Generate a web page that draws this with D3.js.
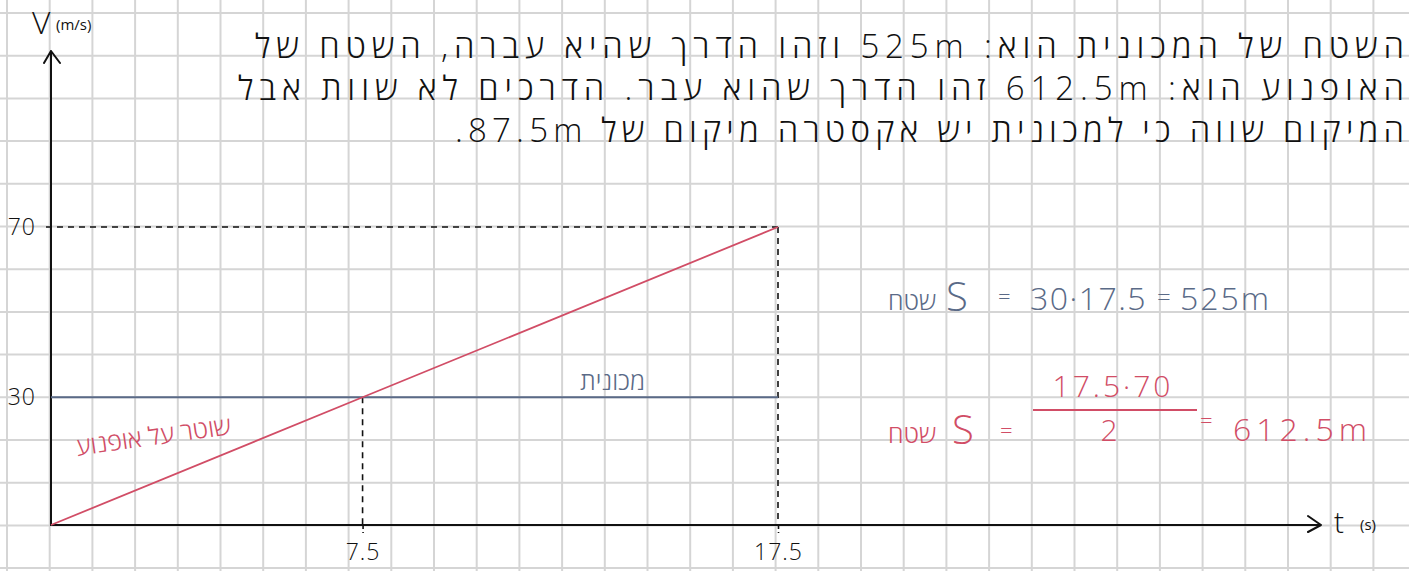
<!DOCTYPE html>
<html>
<head>
<meta charset="utf-8">
<script src="https://cdn.jsdelivr.net/npm/d3@7"></script>
<style>
	body { margin: 0; background: #fff; }
	svg { display: block; }
	text { font-family: 'Open Sans', 'Liberation Sans', 'DejaVu Sans', sans-serif; }
	.axis text { font-size: 23px; fill: #111; font-weight: 300; letter-spacing: 1px; }
	.axis .domain { display: none; }
</style>
</head>
<body>
<div class="graphic"></div>
<script>
const width = 1409
const height = 571

// values
const times = [0, 7.5, 17.5]
const motoSpeed = [0, 30, 70]
const carSpeed = [30, 30, 30]
const xTicks = [7.5, 17.5]
const yTicks = [30, 70]

const noteLines = [
	'השטח של המכונית הוא: 525m וזהו הדרך שהיא עברה, השטח של',
	'האופנוע הוא: 612.5m זהו הדרך שהוא עבר. הדרכים לא שוות אבל',
	'המיקום שווה כי למכונית יש אקסטרה מיקום של 87.5m.',
]
const motoLabel = 'שוטר על אופנוע'
const carLabel = 'מכונית'
const areaWord = 'שטח'

const blue = '#5a6a87'
const red = '#d14d66'

const svg = d3.select('.graphic').append('svg')
	.attr('width', width)
	.attr('height', height)

// grid paper
const gridStep = 42.7
const grid = svg.append('g').attr('class', 'grid')
	.attr('stroke', '#d5d5d5')
	.attr('stroke-width', 2)
grid.selectAll('.v')
	.data(d3.range(7, width, gridStep))
	.enter().append('line')
		.attr('x1', d => d).attr('x2', d => d)
		.attr('y1', 0).attr('y2', height)
grid.selectAll('.h')
	.data(d3.range(13, height, gridStep))
	.enter().append('line')
		.attr('y1', d => d).attr('y2', d => d)
		.attr('x1', 0).attr('x2', width)

const x = d3.scaleLinear()
	.domain([0, d3.max(times)])
	.range([51, 778])

const y = d3.scaleLinear()
	.domain([0, d3.max(motoSpeed)])
	.range([525, 227])

const g = svg.append('g')

// dashed guides
const dash = g.append('g')
	.attr('stroke', '#111')
	.attr('stroke-width', 1.6)
	.attr('stroke-dasharray', '6,5')
	.attr('fill', 'none')
const tEnd = times[times.length - 1]
const vEnd = motoSpeed[motoSpeed.length - 1]
dash.append('line')
	.attr('x1', x(0) - 5).attr('x2', x(tEnd))
	.attr('y1', y(vEnd)).attr('y2', y(vEnd))
dash.append('line')
	.attr('x1', x(tEnd)).attr('x2', x(tEnd))
	.attr('y1', y(vEnd)).attr('y2', y(0))
dash.append('line')
	.attr('x1', x(times[1])).attr('x2', x(times[1]))
	.attr('y1', y(motoSpeed[1])).attr('y2', y(0))

// axes
g.append('g')
	.attr('class', 'axis axis--x')
	.attr('transform', `translate(0,${y(0)})`)
	.call(d3.axisBottom(x).tickValues(xTicks).tickFormat(d3.format('.1f')).tickSize(8).tickPadding(11))
	.selectAll('line')
		.attr('stroke', '#111')
		.attr('stroke-width', 1.6)
		.attr('stroke-dasharray', '4,3')

g.append('g')
	.attr('class', 'axis axis--y')
	.attr('transform', `translate(${x(0)},0)`)
	.call(d3.axisLeft(y).tickValues(yTicks).tickSize(0).tickPadding(15))

const axisLine = g.append('g')
	.attr('stroke', '#111')
	.attr('stroke-width', 2)
	.attr('fill', 'none')
	.attr('stroke-linecap', 'round')
	.attr('stroke-linejoin', 'round')
axisLine.append('path')
	.attr('d', `M${x(0)},${y(0)} H1321 M1308,516 L1321,${y(0)} L1308,532`)
axisLine.append('path')
	.attr('d', `M${x(0)},${y(0)} V51 M44,63 L${x(0)},51 L60,63`)

svg.append('text')
	.attr('x', 32).attr('y', 34)
	.attr('font-size', 32).attr('font-weight', 300).attr('fill', '#111')
	.text('V')
svg.append('text')
	.attr('x', 56).attr('y', 30)
	.attr('font-size', 15).attr('fill', '#111')
	.text('(m/s)')
svg.append('text')
	.attr('x', 1334).attr('y', 533)
	.attr('font-size', 30).attr('font-weight', 300).attr('fill', '#111')
	.text('t')
svg.append('text')
	.attr('x', 1360).attr('y', 530)
	.attr('font-size', 15).attr('fill', '#111')
	.text('(s)')

// the two motions
const line = d3.line()
	.x(d => x(d[0]))
	.y(d => y(d[1]))

g.append('path')
	.datum(d3.zip(times, carSpeed))
	.attr('d', line)
	.attr('fill', 'none')
	.attr('stroke', blue)
	.attr('stroke-width', 2)

g.append('path')
	.datum(d3.zip(times, motoSpeed))
	.attr('d', line)
	.attr('fill', 'none')
	.attr('stroke', red)
	.attr('stroke-width', 1.8)

svg.append('text')
	.attr('x', 645).attr('y', 390)
	.attr('direction', 'rtl')
	.attr('text-anchor', 'start')
	.attr('font-size', 25).attr('font-weight', 300).attr('fill', blue)
	.text(carLabel)

svg.append('text')
	.attr('transform', 'translate(232,434) rotate(-8)')
	.attr('direction', 'rtl')
	.attr('text-anchor', 'start')
	.attr('font-size', 25).attr('font-weight', 300).attr('fill', red)
	.text(motoLabel)

// note at the top
const noteBase = [58, 100, 142]
const noteLeft = [255, 238, 455]
svg.append('g').selectAll('text')
	.data(noteLines)
	.enter().append('text')
		.attr('x', 1404)
		.attr('y', (d, i) => noteBase[i])
		.attr('direction', 'rtl')
		.attr('text-anchor', 'start')
		.attr('font-size', 33)
		.attr('font-weight', 300)
		.attr('fill', '#111')
		.attr('textLength', (d, i) => 1404 - noteLeft[i])
		.attr('lengthAdjust', 'spacing')
		.text(d => d)

// area calculations
const calc = svg.append('g').attr('font-weight', 300)

function put(x0, y0, size, color, txt, anchor, spacing) {
	return calc.append('text')
		.attr('x', x0).attr('y', y0)
		.attr('font-size', size)
		.attr('fill', color)
		.attr('text-anchor', anchor || 'start')
		.attr('letter-spacing', spacing || 0)
		.text(txt)
}

put(888, 310, 25, blue, areaWord)
put(946, 311, 40, blue, 'S')
put(998, 304, 22, blue, '=')
put(1030, 310, 32, blue, '30·17.5', null, 1.5)
put(1157, 306, 24, blue, '=')
put(1180, 310, 32, blue, '525m', null, 2)

put(888, 443, 25, red, areaWord)
put(952, 444, 40, red, 'S')
put(1000, 438, 22, red, '=')
put(1113, 397, 30, red, '17.5·70', 'middle', 3)
calc.append('line')
	.attr('x1', 1033).attr('x2', 1197)
	.attr('y1', 410).attr('y2', 410)
	.attr('stroke', red).attr('stroke-width', 2)
put(1109, 441, 30, red, '2', 'middle')
put(1200, 428, 22, red, '=')
put(1233, 441, 32, red, '612.5m', null, 5)
</script>
</body>
</html>
